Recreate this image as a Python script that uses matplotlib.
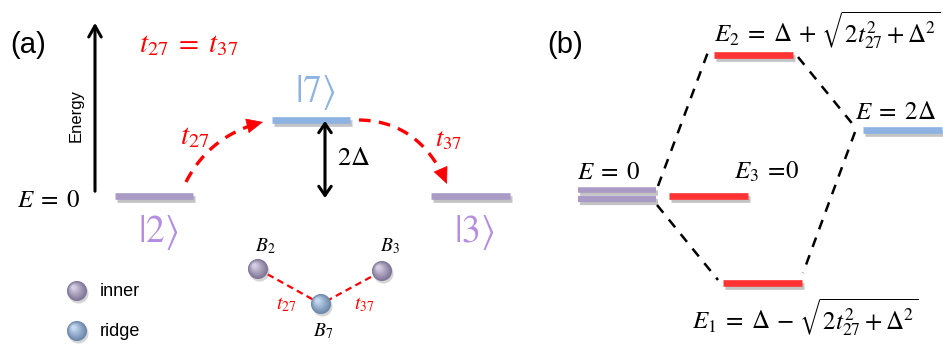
import numpy as np
import matplotlib.pyplot as plt
import matplotlib.colors as mcolors
import matplotlib.patheffects as pe
from matplotlib.patches import Circle

plt.rcParams['mathtext.fontset'] = 'stix'
plt.rcParams['font.family'] = ['Liberation Sans', 'DejaVu Sans']

PURPLE = '#a99bc6'
BLUE = '#8db3e2'
RED = '#ff3333'
LBL_PURPLE = '#b48ee0'
LBL_BLUE = '#8db3e2'

# panel (a): site levels (x start, x end, y level) in figure pixels
a_names = [r'$|2\rangle$', r'$|7\rangle$', r'$|3\rangle$']
a_x0 = [115, 272, 431]
a_x1 = [193, 350, 510]
a_y = [196, 120, 196]
a_colors = [PURPLE, BLUE, PURPLE]
a_label_colors = [LBL_PURPLE, LBL_BLUE, LBL_PURPLE]
a_label_y = [232, 92, 232]

# hopping arrows: start, control, end
hop_start = [(186, 182), (359, 120)]
hop_ctrl = [(210, 135), (420, 121)]
hop_end = [(263, 122), (447, 184)]

# panel (b): eigen levels
b_labels = [r'$E\;=\;0$', r'$E_3\;=\!0$', r'$E_2\;=\;\Delta\,+\,\sqrt{2t_{27}^2+\Delta^2}$',
            r'$E\;=\;2\Delta$', r'$E_1\;=\;\Delta\,-\,\sqrt{2t_{27}^2+\Delta^2}$']
b_x0 = [578, 669, 714, 863, 723]
b_x1 = [656, 748, 793, 942, 802]
b_y = [195, 196, 55, 130, 283]
b_colors = [PURPLE, RED, RED, BLUE, RED]

# atoms of the cluster
atom_names = [r'$B_2$', r'$B_7$', r'$B_3$']
atom_x = [258, 321, 382]
atom_y = [269, 304, 271]
atom_colors = [PURPLE, BLUE, PURPLE]

fig = plt.figure(figsize=(9.43, 3.54), dpi=100)
ax = fig.add_axes([0, 0, 1, 1])
ax.set_xlim(0, 943)
ax.set_ylim(354, 0)
ax.axis('off')

shadow = [pe.SimpleLineShadow(offset=(1.5, -2.5), shadow_color='#555555', alpha=0.35, rho=1),
          pe.Normal()]


def level(x0, x1, y, c):
    ax.plot([x0, x1], [y, y], color=c, lw=4.8, solid_capstyle='butt',
            path_effects=shadow, zorder=3)


def sphere(x, y, r, c):
    base = np.array(mcolors.to_rgb(c))
    dark = base * 0.75
    ax.add_patch(Circle((x + 1.5, y + 2.5), r, color='#888888', alpha=0.35, lw=0, zorder=4))
    n = 12
    for i in range(n):
        f = i / (n - 1)
        col = dark * (1 - f) + (base * 0.5 + 0.5) * f
        col = np.clip(col, 0, 1)
        rr = r * (1 - 0.8 * f)
        ax.add_patch(Circle((x - 0.35 * r * f, y - 0.35 * r * f), rr, color=col, lw=0, zorder=5))


def hop_arrow(p0, pc, p1):
    t = np.linspace(0, 0.88, 60)
    p0, pc, p1 = np.array(p0), np.array(pc), np.array(p1)
    pts = ((1 - t) ** 2)[:, None] * p0 + (2 * (1 - t) * t)[:, None] * pc + (t ** 2)[:, None] * p1
    ax.plot(pts[:, 0], pts[:, 1], color='red', lw=2.4, linestyle=(0, (3.5, 2.5)), zorder=4)
    d = p1 - pc
    d = d / np.hypot(*d)
    ax.annotate('', xy=tuple(p1), xytext=tuple(p1 - 16 * d),
                arrowprops=dict(arrowstyle='-|>,head_width=0.5,head_length=1.1',
                                color='red', lw=0.5, shrinkA=0, shrinkB=0), zorder=4)


# ---- panel (a)
ax.text(10, 45, '(a)', fontsize=21, va='center', ha='left')
ax.annotate('', xy=(95, 20), xytext=(95, 194),
            arrowprops=dict(arrowstyle='->,head_width=0.45,head_length=0.8', color='black', lw=2.2))
ax.text(76, 116, 'Energy', rotation=90, fontsize=12, ha='center', va='center')
ax.text(139, 44, r'$t_{27}\;=\;t_{37}$', color='red', fontsize=21, ha='left', va='center')
ax.text(17, 200, r'$E\;=\;0$', fontsize=18, ha='left', va='center')

for i in range(3):
    level(a_x0[i], a_x1[i], a_y[i], a_colors[i])
    ax.text((a_x0[i] + a_x1[i]) / 2 + 4, a_label_y[i], a_names[i], color=a_label_colors[i],
            fontsize=27, ha='center', va='center')

ax.annotate('', xy=(325, 121), xytext=(325, 198),
            arrowprops=dict(arrowstyle='<->,head_width=0.45,head_length=0.65', color='black', lw=2.2,
                            shrinkA=0, shrinkB=0))
ax.text(337, 158, r'$2\Delta$', fontsize=19, ha='left', va='center')

for i in range(2):
    hop_arrow(hop_start[i], hop_ctrl[i], hop_end[i])
ax.text(195, 136, r'$t_{27}$', color='red', fontsize=21, ha='center', va='center')
ax.text(448, 140, r'$t_{37}$', color='red', fontsize=19, ha='center', va='center')

# cluster
ax.plot(atom_x, atom_y, color='red', lw=1.6, linestyle=(0, (3, 2)), zorder=3)
for i in range(3):
    sphere(atom_x[i], atom_y[i], 10, atom_colors[i])
ax.text(265, 246, atom_names[0], fontsize=14, ha='center', va='center')
ax.text(323, 331, atom_names[1], fontsize=14, ha='center', va='center')
ax.text(390, 246, atom_names[2], fontsize=14, ha='center', va='center')
ax.text(286, 305, r'$t_{27}$', color='red', fontsize=14, ha='center', va='center')
ax.text(364, 305, r'$t_{37}$', color='red', fontsize=14, ha='center', va='center')

sphere(77, 291, 10, PURPLE)
sphere(77, 331, 10, BLUE)
ax.text(100, 292, 'inner', fontsize=13, ha='left', va='center')
ax.text(100, 332, 'ridge', fontsize=13, ha='left', va='center')

# ---- panel (b)
ax.text(547, 45, '(b)', fontsize=21, va='center', ha='left')
ax.plot([b_x0[0], b_x1[0]], [b_y[0] - 5, b_y[0] - 5], color=PURPLE, lw=4,
        solid_capstyle='butt', path_effects=shadow, zorder=3)
ax.plot([b_x0[0], b_x1[0]], [b_y[0] + 4, b_y[0] + 4], color=PURPLE, lw=4.5,
        solid_capstyle='butt', path_effects=shadow, zorder=3)
for i in range(1, 5):
    level(b_x0[i], b_x1[i], b_y[i], b_colors[i])

ax.text(577, 172, b_labels[0], fontsize=18, ha='left', va='center')
ax.text(734, 172, b_labels[1], fontsize=18, ha='left', va='center')
ax.text(714, 31, b_labels[2], fontsize=18, ha='left', va='center')
ax.text(855, 112, b_labels[3], fontsize=18, ha='left', va='center')
ax.text(692, 318, b_labels[4], fontsize=18, ha='left', va='center')

dash = dict(color='black', lw=1.8, linestyle=(0, (4, 3.5)), zorder=2)
ax.plot([658, 708], [186, 52], **dash)
ax.plot([798, 855], [57, 127], **dash)
ax.plot([855, 803], [132, 273], **dash)
ax.plot([657, 718], [205, 280], **dash)

fig.savefig('out.png', dpi=100)
